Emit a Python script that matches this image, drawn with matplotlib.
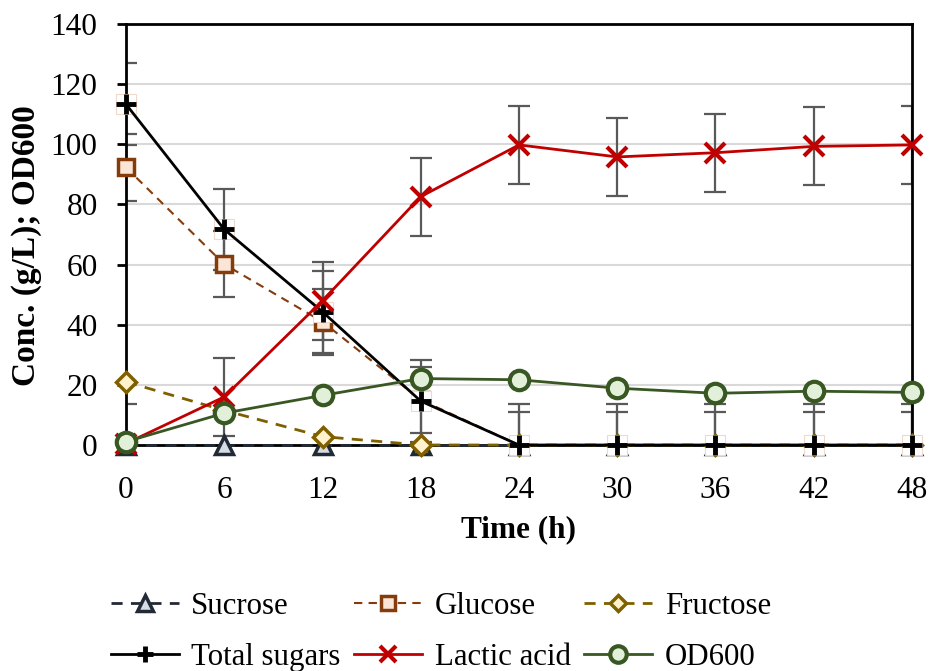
import numpy as np
import matplotlib
matplotlib.use('Agg')
from matplotlib import pyplot as plt

plt.rcParams['font.family'] = ['Liberation Serif', 'DejaVu Serif']

# data
time_h = [0, 6, 12, 18, 24, 30, 36, 42, 48]
sucrose = [0, 0, 0, 0, 0, 0, 0, 0, 0]
glucose = [92.3, 60.1, 41, 15, 0, 0, 0, 0, 0]
fructose = [21, 11.5, 2.8, 0, 0, 0, 0, 0, 0]
total_sugars = [113.3, 71.7, 44.3, 14.6, 0, 0, 0, 0, 0]
lactic_acid = [0.5, 16, 48, 82.6, 99.8, 95.8, 97.2, 99.3, 99.8]
od600 = [1.1, 10.6, 16.5, 22.1, 21.7, 18.9, 17.2, 17.9, 17.5]

# fixed error bar sizes
glucose_err = 11
total_err = 13.6
lactic_err = 13

x_ticks = [0, 6, 12, 18, 24, 30, 36, 42, 48]
y_ticks = [0, 20, 40, 60, 80, 100, 120, 140]

fig = plt.figure(figsize=(9.3, 6.71), dpi=100)
ax = fig.add_axes([0.1355, 0.3368, 0.8451, 0.6274])

err_kw = dict(fmt='none', ecolor='#595959', elinewidth=1.6, capsize=8, capthick=1.6, zorder=2)
ax.errorbar(time_h, glucose, yerr=glucose_err, **err_kw)
ax.errorbar(time_h, total_sugars, yerr=total_err, **err_kw)
ax.errorbar(time_h, lactic_acid, yerr=lactic_err, **err_kw)

h_suc, = ax.plot(time_h, sucrose, ls=(0, (4, 3)), color='#222A35', lw=2,
                 marker='^', ms=13, mfc='#D6DCE5', mec='#222A35', mew=2.5,
                 label='Sucrose', zorder=3, clip_on=False)
h_glu, = ax.plot(time_h, glucose, ls=(0, (4, 3)), color='#843C0C', lw=1.5,
                 marker='s', ms=12, mfc='#FBE5D6', mec='#843C0C', mew=2.5,
                 label='Glucose', zorder=4, clip_on=False)
h_fru, = ax.plot(time_h, fructose, ls=(0, (4, 3)), color='#7F6000', lw=2,
                 marker='D', ms=10, mfc='#FFF2CC', mec='#7F6000', mew=2.5,
                 label='Fructose', zorder=5, clip_on=False)
# white box behind the plus markers
ax.plot(time_h, total_sugars, ls='none', marker='s', ms=14, mfc='white',
        mec='#F0D9CC', mew=0.8, zorder=6, clip_on=False)
h_tot, = ax.plot(time_h, total_sugars, ls='-', color='black', lw=2,
                 marker='+', ms=14, mew=3.5, mec='black',
                 label='Total sugars', zorder=6.5, clip_on=False)
h_lac, = ax.plot(time_h, lactic_acid, ls='-', color='#C00000', lw=2,
                 marker='x', ms=14, mew=3, mec='#C00000',
                 label='Lactic acid', zorder=7, clip_on=False)
h_od, = ax.plot(time_h, od600, ls='-', color='#385723', lw=2,
                marker='o', ms=14, mfc='#E2F0D9', mec='#385723', mew=3,
                label='OD600', zorder=8, clip_on=False)

ax.set_xlim(0, 48)
ax.set_ylim(0, 140)
ax.set_xticks(x_ticks)
ax.set_yticks(y_ticks)
ax.yaxis.grid(True, color='#D9D9D9', lw=1.5, zorder=0)
ax.set_axisbelow(True)
for s in ax.spines.values():
    s.set_linewidth(2)
    s.set_color('black')
ax.tick_params(axis='y', direction='out', length=6.5, width=2, labelsize=22.5, pad=14)
ax.tick_params(axis='x', length=0, labelsize=22.5, pad=22)

ax.set_xlabel('Time (h)', fontsize=22.5, fontweight='bold', labelpad=8)
ax.set_ylabel('Conc. (g/L); OD600', fontsize=24, fontweight='bold',
              va='center', ha='center')
ax.yaxis.set_label_coords(-0.126, 0.4727)

# legend filled row by row like the original
fig.legend(handles=[h_suc, h_tot, h_glu, h_lac, h_fru, h_od],
           loc='center left', bbox_to_anchor=(111 / 930, 1 - 632 / 671), ncol=3,
           fontsize=22.2, frameon=False, handlelength=2.2, handletextpad=0.4,
           columnspacing=0.45, labelspacing=0.72, markerscale=0.85,
           borderpad=0, borderaxespad=0)

plt.savefig('out.png', dpi=100)
